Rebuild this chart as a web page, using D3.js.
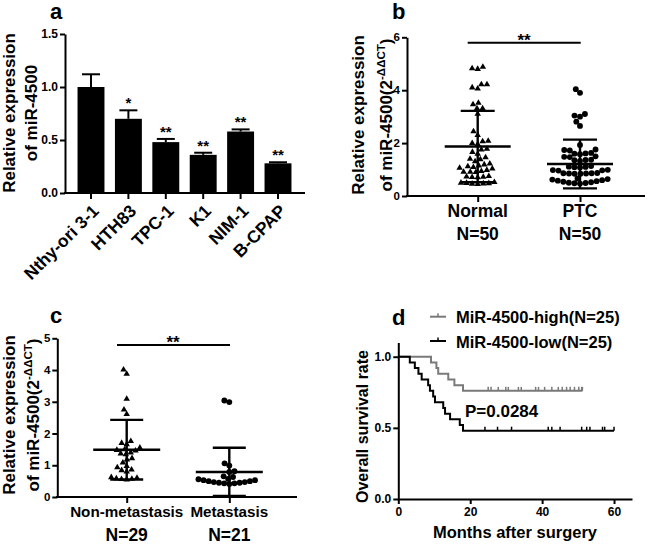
<!DOCTYPE html>
<html><head><meta charset="utf-8">
<script src="https://cdn.jsdelivr.net/npm/d3@7"></script>
<style>
body{margin:0;background:#fff;}
svg{display:block;font-family:"Liberation Sans",Arial,sans-serif;font-weight:bold;}
</style></head><body>
<svg id="chart" width="649" height="544"></svg>
<script>
// ---------- Panel a data ----------
const cellLines = ["Nthy-ori 3-1","HTH83","TPC-1","K1","NIM-1","B-CPAP"];
const cellMeans = [1.00,0.70,0.48,0.36,0.58,0.28];
const cellErrors = [0.12,0.08,0.03,0.02,0.02,0.01];
const cellStars = ["","*","**","**","**","**"];
const aTicks = [0,0.5,1.0,1.5];

// ---------- Panel b data ----------
const bGroups = ["Normal","PTC"];
const bCounts = ["N=50","N=50"];
const normalValues = [4.88,4.80,4.82,4.22,4.10,4.06,4.22,3.52,3.46,3.31,3.31,3.10,2.44,2.30,2.08,2.06,2.00,1.96,1.78,1.75,1.66,1.59,1.46,1.40,1.38,1.31,1.22,1.19,1.15,1.12,1.09,1.06,1.03,0.98,0.94,0.91,0.91,0.90,0.75,0.73,0.72,0.71,0.70,0.52,0.50,0.49,0.48,0.47,0.46,0.45];
const ptcValues = [4.04,3.90,3.10,3.04,3.00,2.81,2.65,1.93,1.76,1.74,1.72,1.63,1.61,1.60,1.58,1.50,1.48,1.47,1.37,1.36,1.35,1.33,1.13,1.11,1.10,1.09,1.08,0.99,0.98,0.97,0.96,0.87,0.86,0.86,0.85,0.85,0.84,0.84,0.66,0.64,0.62,0.60,0.58,0.56,0.54,0.52,0.50,0.49,0.48,0.47];
const bMeans = [1.87,1.21];
const bSDs = [1.35,0.92];
const bTicks = [0,2,4,6];

// ---------- Panel c data ----------
const cGroups = ["Non-metastasis","Metastasis"];
const cCounts = ["N=29","N=21"];
const nonMetValues = [4.01,3.88,3.09,2.75,2.61,1.76,1.70,1.66,1.55,1.50,1.48,1.46,1.40,1.37,1.34,1.22,1.18,1.08,0.97,0.93,0.86,0.84,0.80,0.62,0.60,0.58,0.57,0.56,0.55];
const metValues = [3.04,2.99,1.06,0.99,0.81,0.79,0.65,0.63,0.57,0.56,0.53,0.50,0.47,0.45,0.43,0.41,0.43,0.45,0.47,0.50,0.53];
const cMeans = [1.49,0.79];
const cSDs = [0.94,0.76];
const cTicks = [0,1,2,3,4,5];

// ---------- Panel d data ----------
const kmLabels = ["MiR-4500-high(N=25)","MiR-4500-low(N=25)"];
const highEvents = [9.1,10.6,11.1,13.9,15.6,18.0];
const highCensored = [25.0,25.8,27.8,29.9,30.6,33.4,34.2,38.2,39.0,40.7,42.7,44.5,45.6,46.8,47.8,49.0,50.2,51.0,51.2];
const lowEvents = [3.2,4.6,5.6,6.5,8.3,8.8,9.7,10.2,12.5,13.0,14.4,17.1,18.0];
const lowCensored = [24.1,27.6,31.5,41.7,42.7,45.0,51.0,52.4,53.3,56.8,57.4,60.0];
const dXTicks = [0,20,40,60];
const dYTicks = [0,0.5,1.0];
const pValueText = "P=0.0284";

const svg = d3.select("#chart");
const FONT = '"Liberation Sans",Arial,sans-serif';

function styleAxis(sel, fs){
  sel.selectAll(".domain").attr("stroke","#000").attr("stroke-width",2);
  sel.selectAll(".tick line").attr("stroke","#000").attr("stroke-width",2);
  sel.selectAll(".tick text").attr("font-family",FONT).attr("font-weight","bold").attr("font-size",fs).attr("fill","#000");
}
function panelLetter(x,y,t){
  svg.append("text").attr("x",x).attr("y",y).attr("font-size",22).text(t);
}
function yTitle(x1,x2,cy,l1,fs,sup){
  svg.append("text").attr("transform",`translate(${x1},${cy}) rotate(-90)`).attr("text-anchor","middle").attr("font-size",fs).text(l1);
  const t = svg.append("text").attr("transform",`translate(${x2},${cy}) rotate(-90)`).attr("text-anchor","middle").attr("font-size",fs);
  if(sup){
    t.append("tspan").text("of miR-4500(2");
    t.append("tspan").attr("dy",-7).attr("font-size",fs*0.68).text("-ΔΔCT");
    t.append("tspan").attr("dy",7).text(")");
  } else t.text("of miR-4500");
}
function swarm(values, y, cx, d){
  const pts = values.map(v=>({v, y:y(v)})).sort((a,b)=>b.y-a.y);
  const placed=[];
  for(const p of pts){
    const iv=[];
    for(const q of placed){const dy=Math.abs(q.y-p.y); if(dy<d){const w=Math.sqrt(d*d-dy*dy); iv.push([q.dx-w,q.dx+w]);}}
    const cands=[0]; iv.forEach(i=>cands.push(i[0],i[1]));
    cands.sort((a,b)=>Math.abs(a)-Math.abs(b)||a-b);
    for(const c of cands){ if(iv.every(i=>c<=i[0]+1e-6||c>=i[1]-1e-6)){p.dx=c;break;} }
    placed.push(p);
  }
  return placed.map(p=>({x:cx+p.dx,y:p.y}));
}

// ================= Panel a =================
{
  const ya = d3.scaleLinear().domain([0,1.5]).range([193,34]);
  const xa = d3.scaleBand().domain(cellLines).range([72.3,296.7]).paddingInner(0.28).paddingOuter(0.14);
  svg.append("g").selectAll("rect").data(cellLines).join("rect")
    .attr("x",d=>xa(d)).attr("width",xa.bandwidth())
    .attr("y",(d,i)=>ya(cellMeans[i])).attr("height",(d,i)=>ya(0)-ya(cellMeans[i])).attr("fill","#000");
  const eb = svg.append("g").attr("stroke","#000").attr("stroke-width",2);
  cellLines.forEach((c,i)=>{
    const cx = xa(c)+xa.bandwidth()/2, top = ya(cellMeans[i]+cellErrors[i]);
    eb.append("line").attr("x1",cx).attr("x2",cx).attr("y1",ya(cellMeans[i])).attr("y2",top);
    eb.append("line").attr("x1",cx-9).attr("x2",cx+9).attr("y1",top).attr("y2",top);
    svg.append("text").attr("x",cx).attr("y",top-2).attr("text-anchor","middle").attr("font-size",15).text(cellStars[i]);
  });
  const gy = svg.append("g").attr("transform","translate(65,0)")
    .call(d3.axisLeft(ya).tickValues(aTicks).tickFormat(d3.format(".1f")).tickSize(5).tickSizeOuter(0).tickPadding(2));
  styleAxis(gy,12);
  const gx = svg.append("g").attr("transform","translate(0,193)")
    .call(d3.axisBottom(xa).tickSize(6).tickSizeOuter(0).tickFormat(""));
  gx.select(".domain").attr("d","M64,0H305");
  styleAxis(gx,12);
  svg.append("g").selectAll("text").data(cellLines).join("text")
    .attr("transform",d=>`translate(${xa(d)+xa.bandwidth()/2+9},${212}) rotate(-45)`)
    .attr("text-anchor","end").attr("font-size",17.5).text(d=>d);
  yTitle(15,37,113,"Relative expression",17,false);
  panelLetter(50,19,"a");
}

// ================= Panel b =================
{
  const yb = d3.scaleLinear().domain([0,6]).range([196,37.3]);
  const xb = d3.scalePoint().domain(bGroups).range([477.7,580]);
  const sets=[normalValues,ptcValues];
  sets.forEach((vals,gi)=>{
    const pts = swarm(vals,yb,xb(bGroups[gi]),5.6);
    const sym = d3.symbol().type(gi===0?d3.symbolTriangle:d3.symbolCircle).size(gi===0?18:27);
    svg.append("g").selectAll("path").data(pts).join("path")
      .attr("transform",p=>`translate(${p.x},${p.y})`).attr("d",sym).attr("fill","#000");
    const cx=xb(bGroups[gi]), m=bMeans[gi], s=bSDs[gi];
    const g=svg.append("g").attr("stroke","#000").attr("stroke-width",2.4);
    g.append("line").attr("x1",cx).attr("x2",cx).attr("y1",yb(m-s)).attr("y2",yb(m+s));
    g.append("line").attr("x1",cx-33).attr("x2",cx+33).attr("y1",yb(m)).attr("y2",yb(m));
    [m-s,m+s].forEach(v=>g.append("line").attr("x1",cx-17).attr("x2",cx+17).attr("y1",yb(v)).attr("y2",yb(v)));
  });
  const gy = svg.append("g").attr("transform","translate(407,0)")
    .call(d3.axisLeft(yb).tickValues(bTicks).tickFormat(d3.format("d")).tickSize(5).tickSizeOuter(0).tickPadding(2));
  styleAxis(gy,11.5);
  const gx = svg.append("g").attr("transform","translate(0,196)")
    .call(d3.axisBottom(xb).tickSize(6).tickSizeOuter(0).tickFormat(""));
  gx.select(".domain").attr("d","M406,0H645");
  styleAxis(gx,12);
  bGroups.forEach((gname,i)=>{
    svg.append("text").attr("x",xb(gname)).attr("y",217).attr("text-anchor","middle").attr("font-size",17.5).text(gname);
    svg.append("text").attr("x",xb(gname)).attr("y",240).attr("text-anchor","middle").attr("font-size",17.5).text(bCounts[i]);
  });
  svg.append("line").attr("x1",467.7).attr("x2",580.7).attr("y1",42.7).attr("y2",42.7).attr("stroke","#000").attr("stroke-width",2);
  svg.append("text").attr("x",524).attr("y",46).attr("text-anchor","middle").attr("font-size",17).text("**");
  yTitle(364,392,115,"Relative expression",17,true);
  panelLetter(392,19,"b");
}

// ================= Panel c =================
{
  const yc = d3.scaleLinear().domain([0,5]).range([497,338.3]);
  const xc = d3.scalePoint().domain(cGroups).range([126.7,229.3]);
  const sets=[nonMetValues,metValues];
  sets.forEach((vals,gi)=>{
    const pts = swarm(vals,yc,xc(cGroups[gi]),5.2);
    const sym = d3.symbol().type(gi===0?d3.symbolTriangle:d3.symbolCircle).size(gi===0?18:27);
    svg.append("g").selectAll("path").data(pts).join("path")
      .attr("transform",p=>`translate(${p.x},${p.y})`).attr("d",sym).attr("fill","#000");
    const cx=xc(cGroups[gi]), m=cMeans[gi], s=cSDs[gi];
    const g=svg.append("g").attr("stroke","#000").attr("stroke-width",2.4);
    g.append("line").attr("x1",cx).attr("x2",cx).attr("y1",yc(m-s)).attr("y2",yc(m+s));
    g.append("line").attr("x1",cx-33.5).attr("x2",cx+33.5).attr("y1",yc(m)).attr("y2",yc(m));
    [m-s,m+s].forEach(v=>g.append("line").attr("x1",cx-16.5).attr("x2",cx+16.5).attr("y1",yc(v)).attr("y2",yc(v)));
  });
  const gy = svg.append("g").attr("transform","translate(57.3,0)")
    .call(d3.axisLeft(yc).tickValues(cTicks).tickFormat(d3.format("d")).tickSize(5).tickSizeOuter(0).tickPadding(2));
  styleAxis(gy,11.5);
  const gx = svg.append("g").attr("transform","translate(0,497)")
    .call(d3.axisBottom(xc).tickSize(6).tickSizeOuter(0).tickFormat(""));
  gx.select(".domain").attr("d","M56,0H297");
  styleAxis(gx,12);
  cGroups.forEach((gname,i)=>{
    svg.append("text").attr("x",xc(gname)).attr("y",517).attr("text-anchor","middle").attr("font-size",15.2).text(gname);
    svg.append("text").attr("x",xc(gname)).attr("y",541).attr("text-anchor","middle").attr("font-size",17.5).text(cCounts[i]);
  });
  svg.append("line").attr("x1",117).attr("x2",230).attr("y1",345).attr("y2",345).attr("stroke","#000").attr("stroke-width",2);
  svg.append("text").attr("x",173).attr("y",348).attr("text-anchor","middle").attr("font-size",17).text("**");
  yTitle(15,39,415,"Relative expression",17,true);
  panelLetter(50,323,"c");
}

// ================= Panel d =================
{
  const xd = d3.scaleLinear().domain([0,65]).range([398.3,632]);
  const yd = d3.scaleLinear().domain([0,1.1]).range([499,342.5]);
  function km(events,cens,n){
    const all = events.map(t=>({t,e:1})).concat(cens.map(t=>({t,e:0}))).sort((a,b)=>a.t-b.t||b.e-a.e);
    let s=1, risk=n; const pts=[[0,1]]; const cp=[];
    all.forEach(o=>{ if(o.e){ s*=1-1/risk; pts.push([o.t,s]); } else cp.push([o.t,s]); risk--; });
    const end = d3.max(all,o=>o.t); pts.push([end,s]);
    return {pts,cp};
  }
  const groups=[{ev:highEvents,ce:highCensored,col:"#7a7a7a"},{ev:lowEvents,ce:lowCensored,col:"#000"}];
  const line = d3.line().x(d=>xd(d[0])).y(d=>yd(d[1])).curve(d3.curveStepAfter);
  groups.forEach(gr=>{
    const r = km(gr.ev,gr.ce,25);
    svg.append("path").attr("d",line(r.pts)).attr("fill","none").attr("stroke",gr.col).attr("stroke-width",2);
    svg.append("g").selectAll("line").data(r.cp).join("line")
      .attr("x1",d=>xd(d[0])).attr("x2",d=>xd(d[0])).attr("y1",d=>yd(d[1])).attr("y2",d=>yd(d[1])-4)
      .attr("stroke",gr.col).attr("stroke-width",1.5);
  });
  const gy = svg.append("g").attr("transform","translate(398.3,0)")
    .call(d3.axisLeft(yd).tickValues(dYTicks).tickFormat(d3.format(".1f")).tickSize(5).tickSizeOuter(0).tickPadding(2));
  styleAxis(gy,12);
  const gx = svg.append("g").attr("transform","translate(0,499)")
    .call(d3.axisBottom(xd).tickValues(dXTicks).tickFormat(d3.format("d")).tickSize(5).tickSizeOuter(0).tickPadding(3));
  styleAxis(gx,12);
  svg.append("text").attr("x",515).attr("y",538).attr("text-anchor","middle").attr("font-size",16.5).text("Months after surgery");
  svg.append("text").attr("transform","translate(368,426.5) rotate(-90)").attr("text-anchor","middle").attr("font-size",16).text("Overall survival rate");
  svg.append("text").attr("x",465).attr("y",416.7).attr("font-size",17).text(pValueText);
  panelLetter(392,325,"d");
  const ly=[316.7,341];
  kmLabels.forEach((lab,i)=>{
    svg.append("line").attr("x1",430).attr("x2",446).attr("y1",ly[i]).attr("y2",ly[i]).attr("stroke",groups[i].col).attr("stroke-width",2);
    svg.append("line").attr("x1",438).attr("x2",438).attr("y1",ly[i]).attr("y2",ly[i]-3.5).attr("stroke",groups[i].col).attr("stroke-width",1.5);
    svg.append("text").attr("x",456).attr("y",ly[i]+6.5).attr("font-size",16.5).text(lab);
  });
}
</script>
</body></html>
